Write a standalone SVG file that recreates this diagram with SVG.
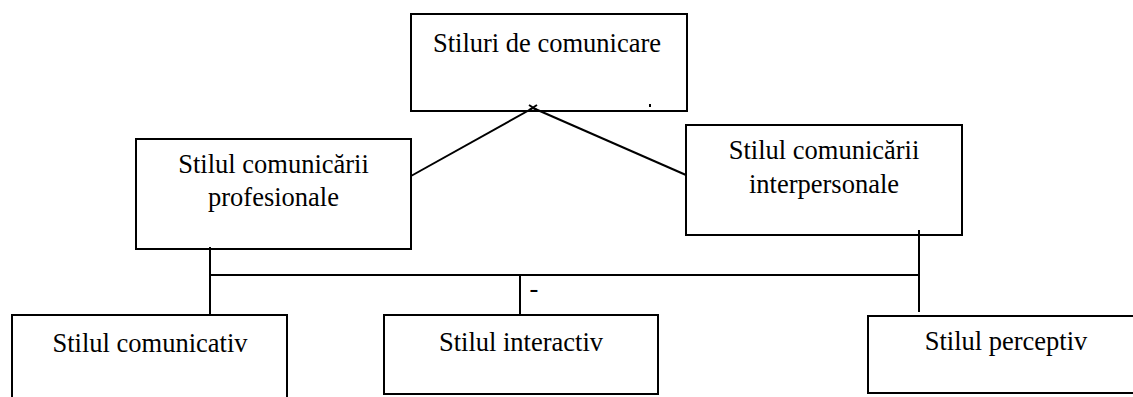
<svg xmlns="http://www.w3.org/2000/svg" width="1133" height="397" viewBox="0 0 1133 397">
<style>
.box{fill:#fff;stroke:#000;stroke-width:2}
.ln{stroke:#000;stroke-width:2;fill:none}
text{font-family:"Liberation Serif","Times New Roman",serif;font-size:26.5px;fill:#000;text-anchor:middle}
</style>
<rect width="1133" height="397" fill="#fff"/>
<g id="n-top">
<rect class="box" x="411" y="14" width="276" height="97"/>
<text x="547" y="52">Stiluri de comunicare</text>
<line class="ln" x1="650" y1="104" x2="650" y2="107" stroke-width="1"/>
</g>
<g id="n-prof">
<rect class="box" x="136" y="139" width="275" height="110"/>
<text x="273.5" y="173">Stilul comunicării</text>
<text x="273.5" y="206">profesionale</text>
</g>
<g id="n-inter">
<rect class="box" x="686" y="125" width="276" height="110"/>
<text x="824" y="159">Stilul comunicării</text>
<text x="824" y="193">interpersonale</text>
</g>
<g id="n-comunicativ">
<path class="box" d="M12,400 V315 H287 V400"/>
<text x="150" y="352">Stilul comunicativ</text>
</g>
<g id="n-interactiv">
<rect class="box" x="384" y="315" width="274" height="79"/>
<text x="521" y="351">Stilul interactiv</text>
</g>
<g id="n-perceptiv">
<rect class="box" x="868" y="316" width="280" height="77"/>
<text x="1006" y="350">Stilul perceptiv</text>
</g>
<g id="connectors">
<line class="ln" x1="533" y1="108" x2="411" y2="176"/>
<line class="ln" x1="533" y1="108" x2="686" y2="175"/>
<path class="ln" d="M529,105 L537,110 M537,105 L529,110" stroke-width="1.5"/>
<line class="ln" x1="210" y1="247" x2="210" y2="315"/>
<line class="ln" x1="210" y1="275" x2="919" y2="275"/>
<line class="ln" x1="919" y1="230" x2="919" y2="312"/>
<line class="ln" x1="520" y1="275" x2="520" y2="315"/>
<text x="534" y="297">-</text>
</g>
</svg>
